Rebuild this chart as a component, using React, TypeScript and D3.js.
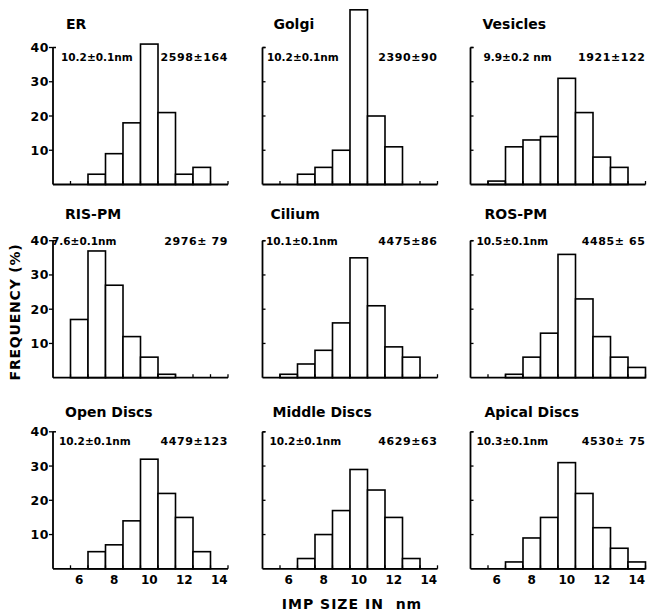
import * as d3 from 'd3';

// panel names, reading order (row by row)
const panelNames = ['ER', 'Golgi', 'Vesicles', 'RIS-PM', 'Cilium', 'ROS-PM', 'Open Discs', 'Middle Discs', 'Apical Discs'];
const sizeLabels = ['10.2±0.1nm', '10.2±0.1nm', '9.9±0.2 nm', '7.6±0.1nm', '10.1±0.1nm', '10.5±0.1nm', '10.2±0.1nm', '10.2±0.1nm', '10.3±0.1nm'];
const countLabels = ['2598±164', '2390±90', '1921±122', '2976± 79', '4475±86', '4485± 65', '4479±123', '4629±63', '4530± 75'];

// first IMP size bin (nm) of each histogram
const firstBin = [7, 7, 6, 6, 6, 7, 7, 7, 7];

// frequencies (%) per 1 nm bin
const erFreq = [3, 9, 18, 41, 21, 3, 5];
const golgiFreq = [3, 5, 10, 51, 20, 11];
const vesiclesFreq = [1, 11, 13, 14, 31, 21, 8, 5];
const risFreq = [17, 37, 27, 12, 6, 1];
const ciliumFreq = [1, 4, 8, 16, 35, 21, 9, 6];
const rosFreq = [1, 6, 13, 36, 23, 12, 6, 3];
const openFreq = [5, 7, 14, 32, 22, 15, 5];
const middleFreq = [3, 10, 17, 29, 23, 15, 3];
const apicalFreq = [2, 9, 15, 31, 22, 12, 6, 2];
const freqs = [erFreq, golgiFreq, vesiclesFreq, risFreq, ciliumFreq, rosFreq, openFreq, middleFreq, apicalFreq];

const yTicks = [10, 20, 30, 40];
const xTickLabels = [6, 8, 10, 12, 14];
const xEdgeTicks = [5.5, 6.5, 7.5, 8.5, 9.5, 10.5, 11.5, 12.5, 13.5, 14.5];

// layout
const width = 658;
const height = 616;
const colX = [53, 262.5, 470.5];
const rowBase = [184.5, 377.7, 568.8];
const titleY = [29, 219, 417];
const annotY = [61, 244.5, 445];
const sizeDx = [8, 4.5, 13, -1, 3.5, 6, 6, 7, 6];
const titleDx = [13, 11, 12, 12, 8, 14, 12, 10, 14];
const font = '"DejaVu Sans", sans-serif';

const xScale = d3.scaleLinear().domain([4.5, 14.5]).range([0, 175]);
const yScale = d3.scaleLinear().domain([0, 40]).range([0, -137]);

function Panel({ i }) {
  const col = i % 3;
  const row = Math.floor(i / 3);
  const x0 = colX[col];
  const base = rowBase[row];
  const data = freqs[i].map((f, k) => ({ size: firstBin[i] + k, f }));
  const [xa, xb] = xScale.range();

  return (
    <g transform={`translate(${x0},${base})`}>
      {/* bars */}
      {data.map(d => (
        <rect
          key={d.size}
          x={xScale(d.size - 0.5)}
          y={yScale(d.f)}
          width={xScale(d.size + 0.5) - xScale(d.size - 0.5)}
          height={-yScale(d.f)}
          fill="white"
          stroke="black"
          strokeWidth={1.6}
        />
      ))}

      {/* axes */}
      <line x1={xa} x2={xb} y1={0} y2={0} stroke="black" strokeWidth={1.8} />
      <line x1={0} x2={0} y1={0} y2={yScale(40)} stroke="black" strokeWidth={1.8} />
      <line x1={0} x2={3} y1={yScale(40)} y2={yScale(40)} stroke="black" strokeWidth={1.5} />
      {xEdgeTicks.map(t => (
        <line key={t} x1={xScale(t)} x2={xScale(t)} y1={0} y2={-3.5} stroke="black" strokeWidth={1.3} />
      ))}
      {yTicks.map(t => (
        <line
          key={t}
          x1={0}
          x2={col === 0 ? -4 : 3}
          y1={yScale(t)}
          y2={yScale(t)}
          stroke="black"
          strokeWidth={1.3}
        />
      ))}
      {col === 0 && yTicks.map(t => (
        <text
          key={t}
          x={-4}
          y={yScale(t) + 4.5}
          textAnchor="end"
          fontFamily={font}
          fontWeight="bold"
          fontSize={12.5}
          letterSpacing={0.5}
        >
          {t}
        </text>
      ))}
      {row === 2 && xTickLabels.map(t => (
        <text
          key={t}
          x={xScale(t)}
          y={15}
          textAnchor="middle"
          fontFamily={font}
          fontWeight="bold"
          fontSize={12}
        >
          {t}
        </text>
      ))}

      {/* labels */}
      <text
        x={titleDx[i]}
        y={titleY[row] - base}
        fontFamily={font}
        fontWeight="bold"
        fontSize={14}
      >
        {panelNames[i]}
      </text>
      <text
        x={sizeDx[i]}
        y={annotY[row] - base}
        fontFamily={font}
        fontWeight="bold"
        fontSize={10.5}
        style={{ whiteSpace: 'pre' }}
      >
        {sizeLabels[i]}
      </text>
      <text
        x={xb}
        y={annotY[row] - base}
        textAnchor="end"
        fontFamily={font}
        fontWeight="bold"
        fontSize={11}
        letterSpacing={0.6}
        style={{ whiteSpace: 'pre' }}
      >
        {countLabels[i]}
      </text>
    </g>
  );
}

export default function App() {
  return (
    <svg
      width={width}
      height={height}
      style={{ position: 'absolute', left: 0, top: 0, background: 'white' }}
    >
      {panelNames.map((_, i) => <Panel key={i} i={i} />)}

      {/* axis titles */}
      <text
        transform={`translate(20, 312) rotate(-90)`}
        textAnchor="middle"
        fontFamily={font}
        fontWeight="bold"
        fontSize={14}
        letterSpacing={0.8}
      >
        FREQUENCY (%)
      </text>
      <text
        x={352}
        y={609}
        textAnchor="middle"
        fontFamily={font}
        fontWeight="bold"
        fontSize={14}
        letterSpacing={1}
        style={{ whiteSpace: 'pre' }}
      >
        {'IMP SIZE IN  nm'}
      </text>
    </svg>
  );
}
